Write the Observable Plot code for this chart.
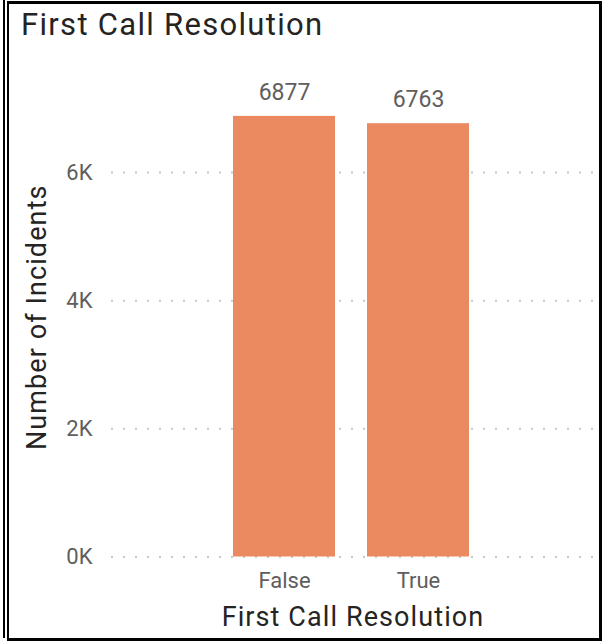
<!DOCTYPE html>
<html>
<head>
<meta charset="utf-8">
<script src="https://cdn.jsdelivr.net/npm/d3@7"></script>
<script src="https://cdn.jsdelivr.net/npm/@observablehq/plot@0.6"></script>
<style>
  html, body { margin: 0; padding: 0; background: #fff; }
  #card { position: relative; width: 603px; height: 642px; overflow: hidden; font-family: Roboto, "Noto Sans", sans-serif; }
  #edge { position: absolute; left: 3px; top: 0; width: 2px; height: 638px; background: #000; }
  #frame { position: absolute; left: 7px; top: 1px; width: 595px; height: 640px; box-sizing: border-box; border: 3px solid #000; border-left-width: 2px; }
  #title { position: absolute; left: 21px; top: 9px; font-size: 31px; line-height: 1; letter-spacing: 1.3px; color: #252423; white-space: nowrap; }
  #chart { position: absolute; left: 0; top: 0; }
</style>
</head>
<body>
<div id="card">
  <div id="chart"></div>
  <div id="edge"></div>
  <div id="frame"></div>
  <div id="title">First Call Resolution</div>
</div>
<script>
// Incident counts by first-call resolution outcome
const categories = ["False", "True"];
const incidents = [6877, 6763];
const yTicks = [0, 2000, 4000, 6000];
const yTitle = "Number of Incidents";
const xTitle = "First Call Resolution";

const data = categories.map((c, i) => ({category: c, count: incidents[i]}));

const chart = Plot.plot({
  width: 603,
  height: 642,
  marginLeft: 111,
  marginRight: 9,
  marginTop: 108,
  marginBottom: 85.5,
  style: {fontFamily: "Roboto, 'Noto Sans', sans-serif", background: "transparent", overflow: "visible"},
  x: {domain: categories, paddingInner: 0.239, paddingOuter: 0.92, align: 0.494},
  y: {domain: [0, 7000]},
  marks: [
    Plot.gridY(yTicks, {stroke: "#c8c8c8", strokeOpacity: 1, strokeWidth: 2, strokeDasharray: "2,10"}),
    Plot.barY(data, {x: "category", y: "count", fill: "#EB8A60"}),
    Plot.text(data, {x: "category", y: "count", text: d => String(d.count), dy: -16.5, lineAnchor: "bottom", fontSize: 23, fill: "#605E5C"}),
    Plot.axisY(yTicks, {tickSize: 0, tickPadding: 19, tickFormat: d => d / 1000 + "K", fontSize: 22, color: "#605E5C", label: null}),
    Plot.axisX({tickSize: 0, tickPadding: 15, fontSize: 22, color: "#605E5C", label: null}),
    Plot.text([yTitle], {text: d => d, frameAnchor: "left", textAnchor: "middle", rotate: -90, dx: -66, dy: -15.5, lineAnchor: "bottom", fontSize: 27, fill: "#252423"}),
    Plot.text([xTitle], {text: d => d, frameAnchor: "bottom", textAnchor: "middle", dy: 68.5, lineAnchor: "bottom", fontSize: 27, fill: "#252423"})
  ]
});

// Slightly open tracking on the two axis titles
d3.select(chart).selectAll("text")
  .filter(function() { return this.textContent === yTitle || this.textContent === xTitle; })
  .style("letter-spacing", "1.1px");

document.getElementById("chart").appendChild(chart);
</script>
</body>
</html>
